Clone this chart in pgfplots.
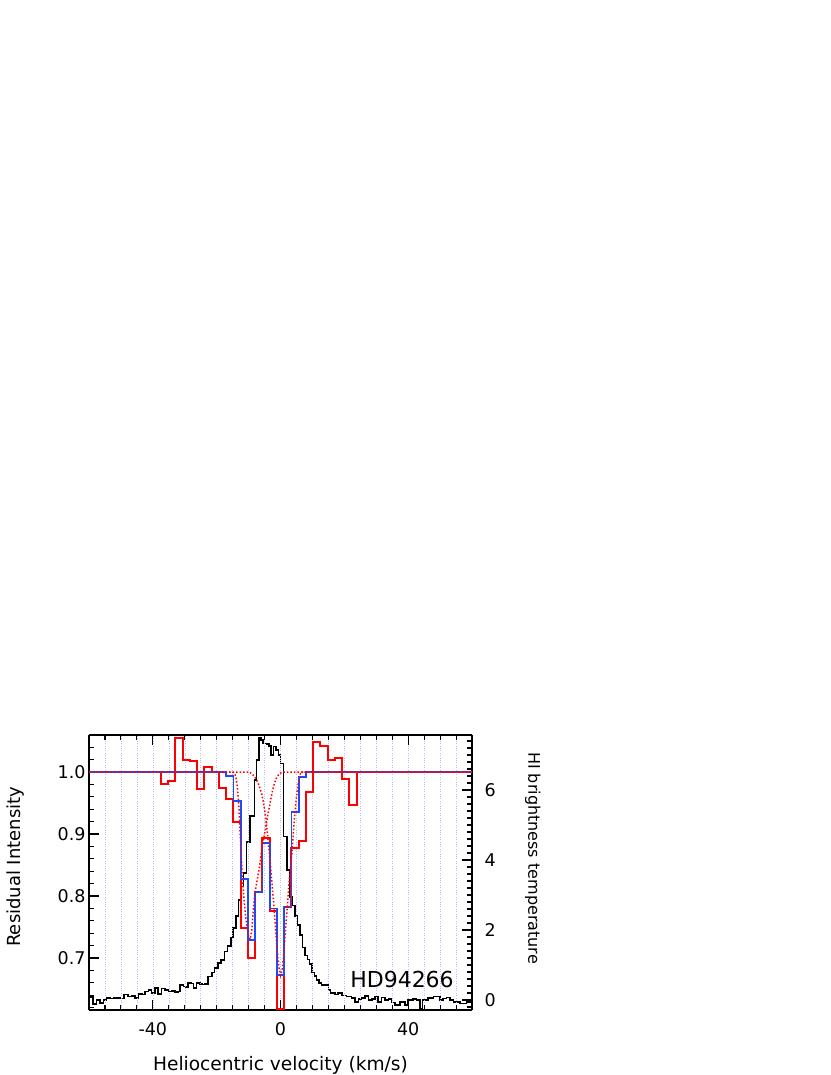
\documentclass[border=0pt]{standalone}
\usepackage{pgfplots}
\pgfplotsset{compat=1.18}
\usepackage{pgfplotstable}
\usepackage{fontspec}
\setmainfont{DejaVu Sans}

\definecolor{fitblue}{RGB}{25,75,255}
\definecolor{gridblue}{RGB}{185,185,250}

% HI brightness temperature (right axis), left bin edges
\pgfplotstableread{
v T
-60 0.09
-58.7 -0.11
-57.6 0.0
-56.6 -0.09
-55.5 0.0
-54.5 0.05
-53.4 0.04
-52.3 0.06
-51.2 0.05
-50.1 0.04
-49.0 0.16
-47.7 0.1
-46.7 0.11
-45.6 0.05
-44.5 0.17
-43.4 0.16
-42.4 0.24
-41.4 0.29
-40.4 0.2
-39.4 0.35
-38.3 0.17
-37.3 0.33
-36.2 0.29
-35.1 0.24
-34.0 0.25
-33.0 0.23
-32.2 0.24
-31.4 0.43
-30.4 0.38
-29.6 0.37
-28.9 0.48
-28.1 0.47
-27.3 0.35
-26.3 0.48
-25.2 0.45
-24.4 0.44
-23.6 0.46
-22.8 0.67
-21.5 0.78
-20.7 0.92
-19.6 1.05
-18.6 1.14
-17.5 1.38
-16.6 1.55
-15.6 1.78
-14.8 2.05
-13.9 2.4
-13.1 2.86
-12.3 3.24
-11.6 3.62
-10.7 4.52
-9.6 5.26
-8.2 6.29
-7.5 6.86
-6.8 7.5
-6.1 7.43
-5.4 7.33
-4.3 7.31
-3.6 7.26
-2.9 7.0
-2.2 7.24
-1.4 7.14
-0.6 7.0
0.0 6.76
0.9 4.67
2.1 3.71
3.0 2.95
3.8 2.7
4.6 2.4
5.3 2.15
6.1 1.85
6.9 1.5
7.7 1.27
8.4 1.16
9.1 1.02
9.8 0.78
10.6 0.68
11.3 0.57
12.1 0.48
12.9 0.43
14.0 0.42
15.0 0.28
15.7 0.2
17.1 0.16
18.1 0.2
19.2 0.13
20.7 0.1
22.3 0.05
23.3 -0.05
24.4 0.02
25.4 0.05
26.5 0.11
27.6 0.0
28.6 0.03
29.6 0.1
30.6 -0.05
31.7 0.07
32.7 0.0
33.8 0.02
34.8 -0.07
35.9 -0.14
37.5 -0.05
39.0 -0.14
40.0 0.0
41.6 0.03
42.6 0.0
43.7 -0.24
44.5 0.0
46.3 0.05
47.9 0.1
49.9 0.0
51.0 0.04
52.0 0.07
53.1 0.0
54.2 -0.05
56.3 -0.1
58.3 -0.05
60 -0.05
}\hidata

% observed residual intensity, left bin edges
\pgfplotstableread{
v I
-60 1.0
-37.46 0.981
-35.19 0.986
-32.92 1.055
-30.64 1.019
-28.37 1.017
-26.10 0.973
-23.83 1.008
-21.56 1.0
-19.28 0.975
-17.01 0.956
-14.74 0.919
-12.47 0.748
-10.20 0.700
-7.92 0.807
-5.65 0.893
-3.38 0.776
-1.11 0.618
1.16 0.783
3.44 0.878
5.71 0.888
7.98 0.967
10.25 1.049
12.52 1.042
14.80 1.020
17.07 1.023
19.34 0.989
21.61 0.946
23.88 1.0
60 1.0
}\obsdata

% binned model fit
\pgfplotstableread{
v I
-60 1.0
-17.01 0.994
-14.74 0.953
-12.47 0.827
-10.20 0.729
-7.92 0.807
-5.65 0.886
-3.38 0.780
-1.11 0.673
1.16 0.783
3.44 0.935
5.71 0.992
7.98 1.0
60 1.0
}\fitdata

% component near -10 km/s
\pgfplotstableread{
v I
-60 1.0
-15 1.0
-14.5 0.998
-14 0.993
-13.5 0.975
-13 0.94
-12.5 0.885
-12 0.835
-11.5 0.80
-11 0.77
-10.5 0.75
-10 0.735
-9.5 0.73
-9 0.745
-8.5 0.78
-8 0.805
-7.5 0.82
-7 0.835
-6.5 0.85
-6 0.87
-5.5 0.885
-5 0.90
-4.5 0.915
-4 0.93
-3.5 0.943
-3 0.957
-2.5 0.97
-2 0.98
-1.5 0.988
-1 0.993
-0.5 0.996
0 0.998
0.5 1.0
60 1.0
}\compa

% component near 0 km/s
\pgfplotstableread{
v I
-60 1.0
-10 1.0
-9.5 0.999
-9 0.997
-8 0.992
-7 0.982
-6 0.967
-5.5 0.955
-5 0.94
-4.5 0.92
-4 0.895
-3.5 0.87
-3 0.84
-2.5 0.81
-2 0.78
-1.5 0.745
-1 0.71
-0.5 0.685
0 0.672
0.5 0.68
1 0.705
1.5 0.74
2 0.775
2.5 0.81
3 0.84
3.5 0.865
4 0.90
4.5 0.933
5 0.96
5.5 0.98
6 0.995
6.5 1.0
60 1.0
}\compb

\begin{document}
\begin{tikzpicture}
\useasboundingbox (0,0) rectangle (830pt,1075pt);
\pgfplotsset{common/.style={
  at={(89pt,65pt)}, anchor=south west, scale only axis,
  width=383pt, height=275pt, xmin=-60, xmax=60,
  tick align=inside, major tick length=10pt, minor tick length=5pt,
  tick style={black,line width=1.1pt},
  axis line style={-,line width=1.5pt},
  tick label style={font=\fontsize{17.5}{20}\selectfont},
  /pgf/number format/assume math mode=true}}

\begin{axis}[common, axis x line=none, axis y line*=right,
  ymin=-0.286, ymax=7.571,
  ytick={0,2,4,6}, yticklabels={0,2,4,6},
  minor ytick={-0.2,0,...,7.4},
  yticklabel style={xshift=9pt}]
\addplot[const plot, black, line width=1.6pt] table[x=v,y=T]{\hidata};
\end{axis}

\begin{axis}[common, axis x line*=box, axis y line*=left,
  ymin=0.6161, ymax=1.0597,
  ytick={0.7,0.8,0.9,1.0}, yticklabels={0.7,0.8,0.9,1.0},
  minor ytick={0.62,0.64,0.66,0.68,0.72,0.74,0.76,0.78,0.82,0.84,0.86,0.88,0.92,0.94,0.96,0.98,1.02,1.04},
  xtick={-40,0,40}, xticklabels={-40,0,40},
  minor xtick={-55,-50,...,55},
  xmajorgrids, xminorgrids,
  major grid style={gridblue,dotted,line width=0.5pt},
  minor grid style={gridblue,dotted,line width=0.5pt},
  xticklabel style={yshift=-9pt}]
\addplot[const plot, red, line width=2pt] table[x=v,y=I]{\obsdata};
\addplot[const plot, fitblue, line width=1.7pt] table[x=v,y=I]{\fitdata};
\addplot[red, dotted, line width=1.5pt] table[x=v,y=I]{\compa};
\addplot[red, dotted, line width=1.5pt] table[x=v,y=I]{\compb};
\node[anchor=base west, inner sep=0pt, font=\fontsize{22}{24}\selectfont]
  at (axis cs:21.8,0.6516) {HD94266};
\end{axis}

\node[anchor=base, inner sep=0pt, font=\fontsize{18.6}{20}\selectfont]
  at (280.5pt,4.3pt) {Heliocentric velocity (km/s)};
\node[anchor=base, inner sep=0pt, rotate=90, font=\fontsize{18}{20}\selectfont]
  at (20.7pt,208.3pt) {Residual Intensity};
\node[anchor=base, inner sep=0pt, rotate=-90, font=\fontsize{16}{18}\selectfont]
  at (528.3pt,217pt) {HI brightness temperature};
\end{tikzpicture}
\end{document}
